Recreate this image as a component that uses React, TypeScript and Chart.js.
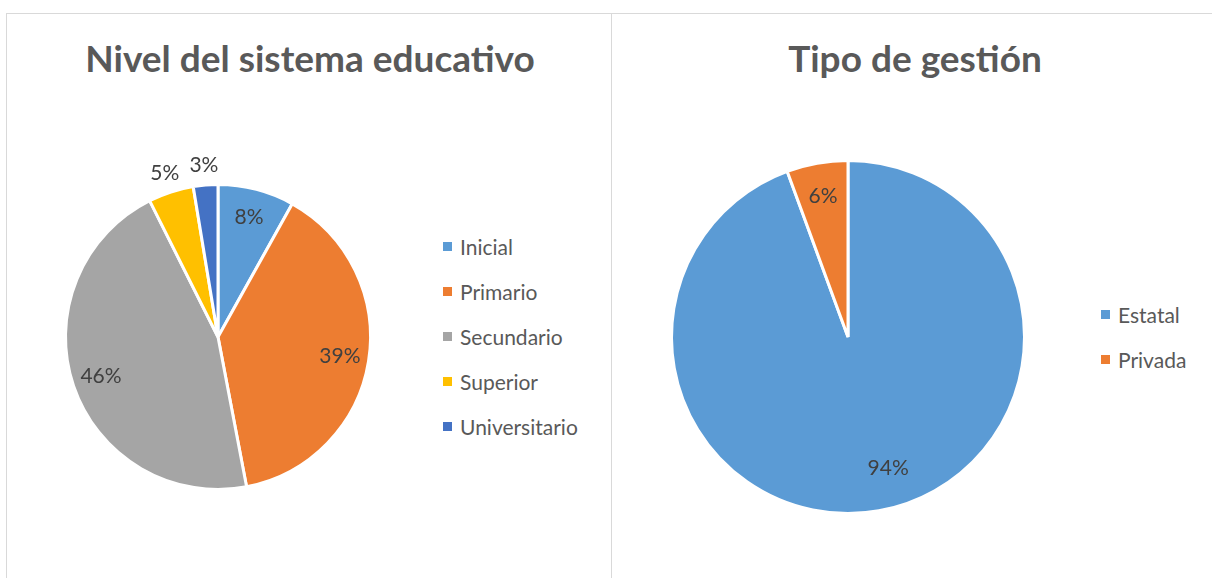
import React, { useEffect, useRef } from "react";
import { Chart, registerables } from "chart.js";

Chart.register(...registerables);

const levelLabels = ["Inicial", "Primario", "Secundario", "Superior", "Universitario"];
const levelValues = [8.1, 38.9, 45.6, 4.8, 2.6];
const levelColors = ["#5B9BD5", "#ED7D31", "#A5A5A5", "#FFC000", "#4472C4"];

const mgmtLabels = ["Estatal", "Privada"];
const mgmtValues = [94.4, 5.6];
const mgmtColors = ["#5B9BD5", "#ED7D31"];

const FONT = "Lato, 'Open Sans', sans-serif";

const labelPlugin = {
  id: "pctLabels",
  afterDatasetsDraw(chart: any) {
    const ctx = chart.ctx;
    const ds = chart.data.datasets[0];
    const total = ds.data.reduce((a: number, b: number) => a + b, 0);
    const meta = chart.getDatasetMeta(0);
    ctx.save();
    ctx.font = `21px ${FONT}`;
    ctx.fillStyle = "#404040";
    ctx.textAlign = "center";
    ctx.textBaseline = "middle";
    meta.data.forEach((arc: any, i: number) => {
      const v = ds.data[i];
      const pct = Math.round((v / total) * 100);
      const share = v / total;
      let mid = (arc.startAngle + arc.endAngle) / 2;
      if (share > 0.9) mid -= 0.12;
      const f = share < 0.055 ? 1.13 : share > 0.9 ? 0.78 : 0.81;
      const r = arc.outerRadius * f;
      const x = arc.x + Math.cos(mid) * r;
      const y = arc.y + Math.sin(mid) * r;
      ctx.fillText(pct + "%", x, y);
    });
    ctx.restore();
  },
};

function Pie(props: { labels: string[]; values: number[]; colors: string[]; pad: number; style: any }) {
  const ref = useRef<HTMLCanvasElement>(null);
  useEffect(() => {
    const chart = new Chart(ref.current!, {
      type: "pie",
      data: {
        labels: props.labels,
        datasets: [
          {
            data: props.values,
            backgroundColor: props.colors,
            borderColor: "#ffffff",
            borderWidth: 3,
            hoverOffset: 0,
          },
        ],
      },
      options: {
        animation: false,
        responsive: false,
        maintainAspectRatio: false,
        layout: { padding: props.pad },
        plugins: { legend: { display: false }, tooltip: { enabled: false }, title: { display: false } },
      },
      plugins: [labelPlugin],
    });
    return () => chart.destroy();
  }, []);
  return <canvas ref={ref} width={440} height={440} style={{ position: "absolute", width: 440, height: 440, ...props.style }} />;
}

function Legend(props: { labels: string[]; colors: string[]; left: number; top: number }) {
  return (
    <div style={{ position: "absolute", left: props.left, top: props.top }}>
      {props.labels.map((l, i) => (
        <div key={l} style={{ display: "flex", alignItems: "center", height: 45, fontFamily: FONT, fontSize: 21, color: "#595959" }}>
          <span style={{ width: 9, height: 9, background: props.colors[i], marginRight: 8, display: "inline-block" }} />
          <span>{l}</span>
        </div>
      ))}
    </div>
  );
}

export default function App() {
  return (
    <div style={{ position: "fixed", left: 0, top: 0, width: 1212, height: 578, background: "#fff", overflow: "hidden" }}>
      <div style={{ position: "absolute", left: 6, top: 13, width: 604, height: 700, border: "1px solid #D9D9D9" }} />
      <div style={{ position: "absolute", left: 611, top: 13, width: 700, height: 700, border: "1px solid #D9D9D9" }} />
      <div style={{ position: "absolute", left: 8, top: 35, width: 604, textAlign: "center", fontFamily: FONT, fontWeight: 700, fontSize: 37, color: "#595959" }}>
        Nivel del sistema educativo
      </div>
      <div style={{ position: "absolute", left: 612, top: 35, width: 606, textAlign: "center", fontFamily: FONT, fontWeight: 700, fontSize: 37, color: "#595959" }}>
        Tipo de gestión
      </div>
      <Pie labels={levelLabels} values={levelValues} colors={levelColors} pad={66} style={{ left: -2, top: 117 }} />
      <Pie labels={mgmtLabels} values={mgmtValues} colors={mgmtColors} pad={42} style={{ left: 628, top: 117 }} />
      <Legend labels={levelLabels} colors={levelColors} left={443} top={224} />
      <Legend labels={mgmtLabels} colors={mgmtColors} left={1101} top={292} />
    </div>
  );
}
